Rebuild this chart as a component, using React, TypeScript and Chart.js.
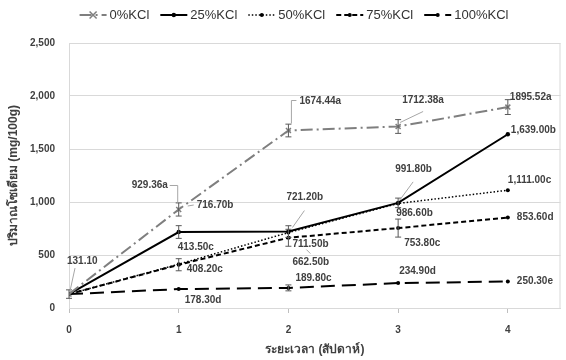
import React, { useEffect, useRef } from "react";
import { Chart, registerables } from "chart.js";

Chart.register(...registerables);

// ---------- data ----------
const weeks = [0, 1, 2, 3, 4];
const seriesNames = ["0%KCl", "25%KCl", "50%KCl", "75%KCl", "100%KCl"];
const kcl0 = [131.1, 929.36, 1674.44, 1712.38, 1895.52];
const kcl25 = [131.1, 716.7, 721.2, 991.8, 1639.0];
const kcl50 = [131.1, 413.5, 711.5, 986.6, 1111.0];
const kcl75 = [131.1, 408.2, 662.5, 753.8, 853.6];
const kcl100 = [131.1, 178.3, 189.8, 234.9, 250.3];
const err0 = [40, 62, 60, 65, 70];
const err25 = [0, 60, 55, 45, 0];
const err50 = [0, 0, 0, 0, 0];
const err75 = [0, 57, 80, 85, 0];
const err100 = [0, 0, 28, 0, 0];
const labels0 = ["131.10", "929.36a", "1674.44a", "1712.38a", "1895.52a"];
const labels25 = ["", "716.70b", "721.20b", "991.80b", "1,639.00b"];
const labels50 = ["", "413.50c", "711.50b", "986.60b", "1,111.00c"];
const labels75 = ["", "408.20c", "662.50b", "753.80c", "853.60d"];
const labels100 = ["", "178.30d", "189.80c", "234.90d", "250.30e"];
const yTicks = [0, 500, 1000, 1500, 2000, 2500];
const xTitle = "ระยะเวลา (สัปดาห์)";
const yTitle = "ปริมาณโซเดียม (mg/100g)";

const values = [kcl0, kcl25, kcl50, kcl75, kcl100];
const errors = [err0, err25, err50, err75, err100];
const labelTexts = [labels0, labels25, labels50, labels75, labels100];

// ---------- layout / style ----------
const FONT = "'Liberation Sans', 'DejaVu Sans', sans-serif";
const TEXT = "#404040";
const styles = [
  { color: "#7f7f7f", width: 2, dash: [12, 4, 2, 4], marker: "crossRot", radius: 3.5 },
  { color: "#000000", width: 2, dash: [], marker: "circle", radius: 2.2 },
  { color: "#000000", width: 1.5, dash: [1.5, 2], marker: "circle", radius: 2 },
  { color: "#000000", width: 2, dash: [5, 3], marker: "circle", radius: 2 },
  { color: "#000000", width: 2, dash: [14, 7], marker: "circle", radius: 2 },
];
// label offsets (left x, centre y) from each data point, px
const labelOffsets = [
  [[-2, -33], [-47, -24], [11, -29], [4, -26], [2, -10]],
  [null, [18, -27], [-2, -34], [-3, -34], [3, -4]],
  [null, [-1, -17], [4, 12], [-2, 10], [0, -10]],
  [null, [8, 5], [4, 24], [6, 15], [9, 0]],
  [null, [6, 11], [7, -10], [1, -12], [9, 0]],
];
// leader lines relative to data points
const leaders = [
  { s: 0, i: 0, pts: [[6, -26], [1, -3]] },
  { s: 0, i: 1, pts: [[-9, -24], [-1, -24], [-1, -7]] },
  { s: 1, i: 1, pts: [[15, -27], [9, -26]] },
  { s: 0, i: 2, pts: [[8, -30], [3, -30], [3, -7]] },
  { s: 1, i: 2, pts: [[16, -21], [4, -4]] },
  { s: 2, i: 2, pts: [[18, 17], [22, 21]] },
  { s: 0, i: 3, pts: [[25, -15], [2, -4]] },
  { s: 1, i: 3, pts: [[15, -21], [1, -2]] },
];
const legendCenterX = 294;
const legendY = 15;

function drawMarker(ctx: CanvasRenderingContext2D, st: any, x: number, y: number) {
  ctx.save();
  ctx.setLineDash([]);
  ctx.strokeStyle = st.color;
  ctx.fillStyle = st.color;
  if (st.marker === "crossRot") {
    const r = st.radius;
    ctx.lineWidth = 1.5;
    ctx.beginPath();
    ctx.moveTo(x - r, y - r);
    ctx.lineTo(x + r, y + r);
    ctx.moveTo(x - r, y + r);
    ctx.lineTo(x + r, y - r);
    ctx.stroke();
  } else {
    ctx.beginPath();
    ctx.arc(x, y, st.radius, 0, Math.PI * 2);
    ctx.fill();
  }
  ctx.restore();
}

const annotPlugin = {
  id: "annot",
  beforeDatasetsDraw(chart: any) {
    const { ctx, chartArea } = chart;
    ctx.save();
    ctx.strokeStyle = "#d9d9d9";
    ctx.lineWidth = 1;
    ctx.beginPath();
    ctx.moveTo(chartArea.right - 0.5, chartArea.top);
    ctx.lineTo(chartArea.right - 0.5, chartArea.bottom);
    ctx.stroke();
    ctx.restore();
  },
  afterDatasetsDraw(chart: any) {
    const { ctx } = chart;
    const xs = chart.scales.x;
    const ys = chart.scales.y;
    ctx.save();
    // error bars
    ctx.strokeStyle = "#595959";
    ctx.lineWidth = 1;
    ctx.setLineDash([]);
    values.forEach((arr, s) => {
      arr.forEach((v, i) => {
        const e = errors[s][i];
        if (!e) return;
        const x = xs.getPixelForValue(weeks[i]);
        const y1 = ys.getPixelForValue(v - e);
        const y2 = ys.getPixelForValue(v + e);
        ctx.beginPath();
        ctx.moveTo(x, y1);
        ctx.lineTo(x, y2);
        ctx.moveTo(x - 3, y1);
        ctx.lineTo(x + 3, y1);
        ctx.moveTo(x - 3, y2);
        ctx.lineTo(x + 3, y2);
        ctx.stroke();
      });
    });
    // leaders
    ctx.strokeStyle = "#a6a6a6";
    leaders.forEach((l) => {
      const x = xs.getPixelForValue(weeks[l.i]);
      const y = ys.getPixelForValue(values[l.s][l.i]);
      ctx.beginPath();
      l.pts.forEach((p, k) => {
        if (k === 0) ctx.moveTo(x + p[0], y + p[1]);
        else ctx.lineTo(x + p[0], y + p[1]);
      });
      ctx.stroke();
    });
    // labels
    ctx.font = `bold 10px ${FONT}`;
    ctx.fillStyle = TEXT;
    ctx.textAlign = "left";
    ctx.textBaseline = "middle";
    labelTexts.forEach((arr, s) => {
      arr.forEach((t, i) => {
        const off = labelOffsets[s][i];
        if (!t || !off) return;
        const x = xs.getPixelForValue(weeks[i]);
        const y = ys.getPixelForValue(values[s][i]);
        ctx.fillText(t, x + off[0], y + off[1]);
      });
    });
    ctx.restore();
  },
  afterDraw(chart: any) {
    const { ctx } = chart;
    ctx.save();
    ctx.font = `13px ${FONT}`;
    const iconW = 27;
    const gapIT = 3;
    const gapItem = 11;
    const widths = seriesNames.map((n) => ctx.measureText(n).width);
    const total =
      widths.reduce((a, b) => a + b, 0) + seriesNames.length * (iconW + gapIT) + (seriesNames.length - 1) * gapItem;
    let x = legendCenterX - total / 2;
    seriesNames.forEach((n, k) => {
      const st = styles[k];
      ctx.strokeStyle = st.color;
      ctx.lineWidth = st.width;
      ctx.setLineDash(st.dash);
      ctx.beginPath();
      ctx.moveTo(x, legendY);
      ctx.lineTo(x + iconW, legendY);
      ctx.stroke();
      drawMarker(ctx, st, x + iconW / 2, legendY);
      ctx.setLineDash([]);
      ctx.fillStyle = "#333333";
      ctx.textAlign = "left";
      ctx.textBaseline = "middle";
      ctx.fillText(n, x + iconW + gapIT, legendY);
      x += iconW + gapIT + widths[k] + gapItem;
    });
    ctx.restore();
  },
};

export default function App() {
  const ref = useRef<HTMLCanvasElement>(null);
  useEffect(() => {
    document.body.style.margin = "0";
    if (!ref.current) return;
    const datasets = values.map((arr, s) => ({
      label: seriesNames[s],
      data: arr.map((v, i) => ({ x: weeks[i], y: v })),
      borderColor: styles[s].color,
      backgroundColor: styles[s].color,
      borderWidth: styles[s].width,
      borderDash: styles[s].dash,
      pointStyle: styles[s].marker,
      pointRadius: styles[s].radius,
      pointBorderWidth: styles[s].marker === "crossRot" ? 1.5 : 0,
      pointBackgroundColor: styles[s].color,
      pointBorderColor: styles[s].color,
      tension: 0,
      fill: false,
    }));
    const chart = new Chart(ref.current, {
      type: "line",
      data: { datasets },
      options: {
        responsive: false,
        animation: false,
        layout: { padding: { top: 43, right: 0, left: 0, bottom: 0 } },
        plugins: { legend: { display: false }, tooltip: { enabled: false } },
        scales: {
          x: {
            type: "linear",
            min: 0,
            max: 4.48,
            afterBuildTicks: (s: any) => {
              s.ticks = weeks.map((v) => ({ value: v }));
            },
            afterFit: (s: any) => {
              s.height = 52;
            },
            ticks: {
              padding: 11,
              color: TEXT,
              font: { family: FONT, size: 10, weight: "bold" },
              callback: (v: any) => String(v),
            },
            grid: { drawOnChartArea: false, drawTicks: true, tickLength: 5, color: "#bfbfbf" },
            border: { color: "#d9d9d9" },
            title: {
              display: true,
              text: xTitle,
              color: TEXT,
              font: { family: FONT, size: 12, weight: "bold" },
              padding: { top: 0, bottom: 3 },
            },
          },
          y: {
            min: 0,
            max: 2500,
            afterBuildTicks: (s: any) => {
              s.ticks = yTicks.map((v) => ({ value: v }));
            },
            afterFit: (s: any) => {
              s.width = 69;
            },
            ticks: {
              padding: 14,
              color: TEXT,
              font: { family: FONT, size: 10, weight: "bold" },
              callback: (v: any) => Number(v).toLocaleString("en-US"),
            },
            grid: { color: "#d9d9d9", drawTicks: false },
            border: { color: "#d9d9d9" },
            title: {
              display: true,
              text: yTitle,
              color: TEXT,
              font: { family: FONT, size: 12, weight: "bold" },
              padding: { top: 6, bottom: 0 },
            },
          },
        },
      },
      plugins: [annotPlugin],
    });
    return () => chart.destroy();
  }, []);
  return (
    <div style={{ width: 566, height: 360 }}>
      <canvas ref={ref} width={566} height={360} />
    </div>
  );
}
